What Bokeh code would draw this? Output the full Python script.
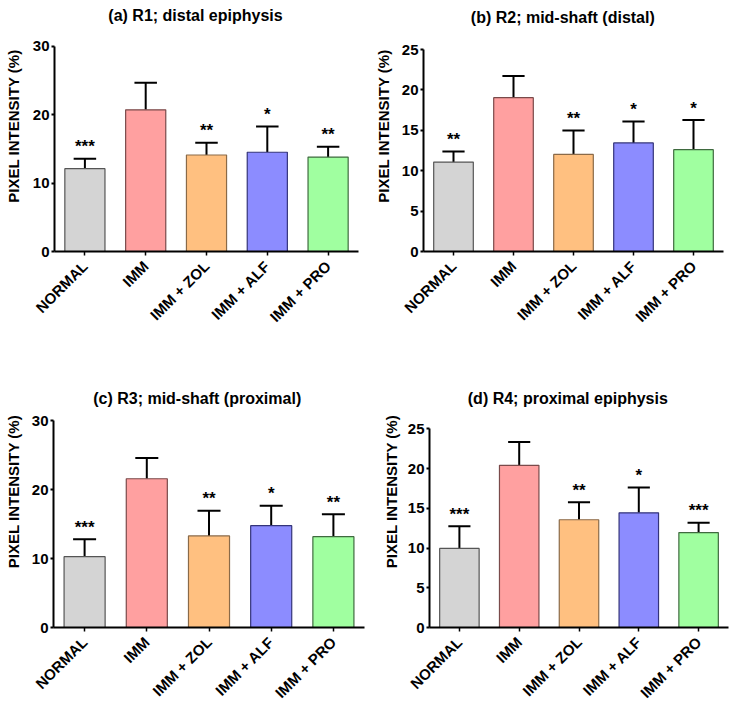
from bokeh.plotting import figure
from bokeh.models import ColumnDataSource, Range1d, FactorRange, Label
from bokeh.layouts import column, row
from bokeh.embed import file_html
from bokeh.resources import INLINE
from bokeh.core.properties import value
from math import pi

groups = ["NORMAL", "IMM", "IMM + ZOL", "IMM + ALF", "IMM + PRO"]
fill_colors = ["#d4d4d4", "#ffa0a0", "#ffc080", "#8c8cff", "#a0ffa0"]
line_colors = ["#555555", "#7a4a4a", "#8a6a48", "#34347a", "#3f6a3f"]

titles = ["(a) R1; distal epiphysis", "(b) R2; mid-shaft (distal)",
          "(c) R3; mid-shaft (proximal)", "(d) R4; proximal epiphysis"]
y_title = "PIXEL INTENSITY (%)"
y_max = [30, 25, 30, 25]
y_ticks = [[0, 10, 20, 30], [0, 5, 10, 15, 20, 25], [0, 10, 20, 30], [0, 5, 10, 15, 20, 25]]

r1_mean = [12.1, 20.7, 14.1, 14.5, 13.8]
r1_err = [13.55, 24.65, 15.9, 18.25, 15.3]
r1_sig = ["***", "", "**", "*", "**"]

r2_mean = [11.07, 19.04, 12.01, 13.44, 12.6]
r2_err = [12.38, 21.73, 14.99, 16.09, 16.26]
r2_sig = ["**", "", "**", "*", "*"]

r3_mean = [10.27, 21.56, 13.27, 14.76, 13.17]
r3_err = [12.78, 24.55, 16.93, 17.66, 16.4]
r3_sig = ["***", "", "**", "*", "**"]

r4_mean = [9.95, 20.4, 13.56, 14.43, 11.94]
r4_err = [12.73, 23.34, 15.75, 17.62, 13.18]
r4_sig = ["***", "", "**", "*", "***"]

FONT = "Liberation Sans"

# layout (pixels): figure width, height, border left, right, bottom
geo = [
    (369, 355, 54, 11, 104),
    (369, 355, 54, 15, 104),
    (369, 355, 53, 5, 83),
    (369, 355, 60, 10, 83),
]
# pixel position of the top tick below the frame top, title centre (x from frame
# left, y from frame top), y-axis label standoff
top_tick_px = [45.7, 49.0, 65.0, 73.3]
title_px = [(141, 15.0), (139.3, 16.7), (143.7, 43.3), (138.3, 43.3)]
ylab_standoff = [8, 7, 7, 5]
STAR_PX = 12


def make(i, means, errs, sigs):
    W, H, L, R, B = geo[i]
    fh = H - B
    fw = W - L - R
    k = (fh - top_tick_px[i]) / y_max[i]  # pixels per unit
    y_end = fh / k
    star_y = [e + STAR_PX / k for e in errs]
    src = ColumnDataSource(dict(g=groups, m=means, e=errs, s=sigs, sy=star_y,
                                fc=fill_colors, lc=line_colors))
    p = figure(x_range=FactorRange(*groups, range_padding=0),
               y_range=Range1d(0, y_end),
               width=W, height=H, output_backend="svg", toolbar_location=None,
               min_border_left=L, min_border_right=R,
               min_border_top=0, min_border_bottom=B)
    p.outline_line_color = None
    p.grid.visible = False
    p.background_fill_color = "white"
    p.border_fill_color = "white"

    p.segment(x0="g", y0="m", x1="g", y1="e", source=src,
              line_color="black", line_width=2)
    p.vbar(x="g", top="e", width=0.37, bottom="e", source=src,
           line_color="black", line_width=2, fill_alpha=0)
    p.vbar(x="g", top="m", width=0.66, source=src,
           fill_color="fc", line_color="lc", line_width=1.2)
    p.text(x="g", y="sy", text="s", source=src, text_align="center",
           text_baseline="middle", text_font=value(FONT),
           text_font_size="17px", text_font_style="bold", text_color="black")

    ya = p.yaxis[0]
    ya.bounds = (0, y_max[i])
    ya.ticker = y_ticks[i]
    ya.axis_label = y_title
    ya.axis_label_text_font = FONT
    ya.axis_label_text_font_size = "15px"
    ya.axis_label_text_font_style = "bold"
    ya.axis_label_text_color = "black"
    ya.axis_label_standoff = ylab_standoff[i]
    ya.major_label_text_font = FONT
    ya.major_label_text_font_size = "15px"
    ya.major_label_text_font_style = "bold"
    ya.major_label_text_color = "black"
    ya.major_label_standoff = 2
    ya.major_tick_out = 3
    ya.major_tick_in = 0
    ya.minor_tick_out = 0
    ya.minor_tick_in = 0
    ya.axis_line_width = 2
    ya.major_tick_line_width = 2

    xa = p.xaxis[0]
    xa.major_label_orientation = pi / 4
    xa.major_label_text_font = FONT
    xa.major_label_text_font_size = "15px"
    xa.major_label_text_font_style = "bold"
    xa.major_label_text_color = "black"
    xa.major_label_standoff = 8
    xa.major_tick_out = 4
    xa.major_tick_in = 0
    xa.axis_line_width = 2
    xa.major_tick_line_width = 1.5

    tx, ty = title_px[i]
    p.add_layout(Label(x=tx / (fw / len(groups)), y=y_end - ty / k,
                       text=titles[i], text_align="center", text_baseline="middle",
                       text_font=FONT, text_font_size="16px",
                       text_font_style="bold", text_color="black"))
    return p


pa = make(0, r1_mean, r1_err, r1_sig)
pb = make(1, r2_mean, r2_err, r2_sig)
pc = make(2, r3_mean, r3_err, r3_sig)
pd = make(3, r4_mean, r4_err, r4_sig)

layout = column(row(pa, pb, spacing=0), row(pc, pd, spacing=0), spacing=0)
open("out.html", "w").write(file_html(layout, INLINE))
